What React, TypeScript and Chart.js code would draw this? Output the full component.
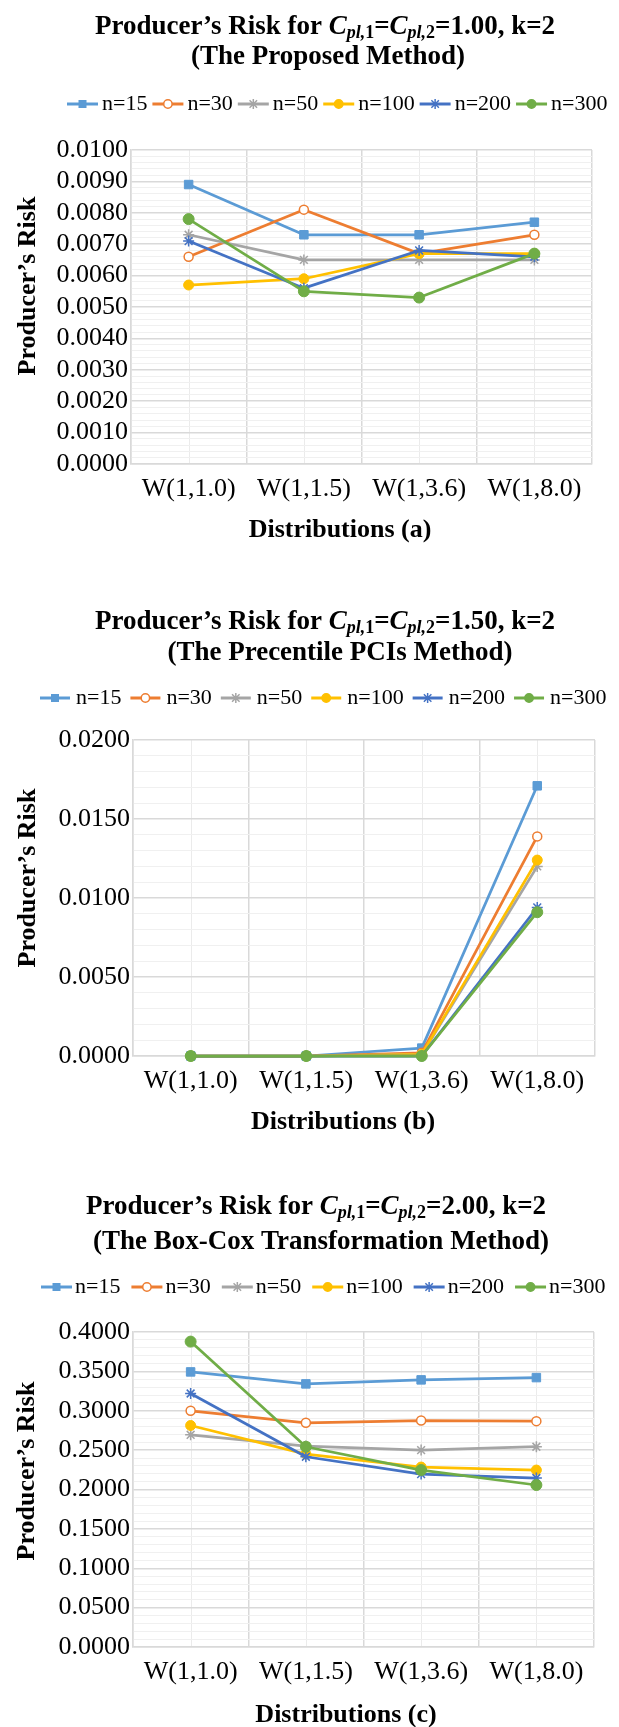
import React, { useEffect, useRef } from 'react';
import { Chart, registerables } from 'chart.js';

Chart.register(...registerables);

// ---------- data ----------
const categories = ['W(1,1.0)', 'W(1,1.5)', 'W(1,3.6)', 'W(1,8.0)'];
const seriesNames = ['n=15', 'n=30', 'n=50', 'n=100', 'n=200', 'n=300'];

// (a) The Proposed Method, Cpl = 1.00
const a_n15 = [0.0089, 0.0073, 0.0073, 0.0077];
const a_n30 = [0.0066, 0.0081, 0.0067, 0.0073];
const a_n50 = [0.0073, 0.0065, 0.0065, 0.0065];
const a_n100 = [0.0057, 0.0059, 0.0067, 0.0067];
const a_n200 = [0.0071, 0.0056, 0.0068, 0.0066];
const a_n300 = [0.0078, 0.0055, 0.0053, 0.0067];

// (b) The Precentile PCIs Method, Cpl = 1.50
const b_n15 = [0.0, 0.0, 0.0005, 0.0171];
const b_n30 = [0.0, 0.0, 0.0002, 0.0139];
const b_n50 = [0.0, 0.0, 0.0001, 0.012];
const b_n100 = [0.0, 0.0, 0.0001, 0.0124];
const b_n200 = [0.0, 0.0, 0.0, 0.0094];
const b_n300 = [0.0, 0.0, 0.0, 0.0091];

// (c) The Box-Cox Transformation Method, Cpl = 2.00
const c_n15 = [0.3493, 0.3341, 0.3392, 0.3421];
const c_n30 = [0.2999, 0.2847, 0.2876, 0.2868];
const c_n50 = [0.2695, 0.2551, 0.2501, 0.2543];
const c_n100 = [0.2813, 0.245, 0.2285, 0.2247];
const c_n200 = [0.3219, 0.2416, 0.2196, 0.2146];
const c_n300 = [0.3878, 0.2543, 0.2247, 0.2057];

// axis ranges (max, major step, minor step)
const a_axis = [0.01, 0.001, 0.0002];
const b_axis = [0.02, 0.005, 0.001];
const c_axis = [0.4, 0.05, 0.01];

const cplValues = ['1.00', '1.50', '2.00'];
const subtitles = ['(The Proposed Method)', '(The Precentile PCIs Method)', '(The Box-Cox Transformation Method)'];
const xTitles = ['Distributions (a)', 'Distributions (b)', 'Distributions (c)'];
const yTitle = 'Producer\u2019s Risk';

// ---------- styles ----------
const FONT = '"Liberation Serif", "Times New Roman", serif';
const W = 619;

const seriesStyles = [
  { color: '#5B9BD5', fill: '#5B9BD5', pointStyle: 'rect', radius: 6, bw: 1 },
  { color: '#ED7D31', fill: '#FFFFFF', pointStyle: 'circle', radius: 4.5, bw: 1.5 },
  { color: '#A5A5A5', fill: '#A5A5A5', pointStyle: 'star', radius: 5.5, bw: 1.5 },
  { color: '#FFC000', fill: '#FFC000', pointStyle: 'circle', radius: 5, bw: 1 },
  { color: '#4472C4', fill: '#4472C4', pointStyle: 'star', radius: 5.5, bw: 1.5 },
  { color: '#70AD47', fill: '#70AD47', pointStyle: 'circle', radius: 5.5, bw: 1 },
];

type Layout = {
  top: number; height: number;
  left: number; right: number; plotTop: number; plotBottom: number;
  t1y: number; t1x: number; t2y: number; t2x: number;
  legY: number; legX: number; legLine: number; legTextGap: number; legGap: number;
  yTx: number; yTy: number; xTx: number; xTy: number;
};

const layouts: Layout[] = [
  { top: 0, height: 560, left: 131, right: 592, plotTop: 150, plotBottom: 464,
    t1y: 27, t1x: 325, t2y: 57, t2x: 328, legY: 104, legX: 67, legLine: 31, legTextGap: 4, legGap: 5,
    yTx: 28, yTy: 286, xTx: 340, xTy: 530 },
  { top: 560, height: 580, left: 133, right: 595, plotTop: 180, plotBottom: 496,
    t1y: 62, t1x: 325, t2y: 93, t2x: 340, legY: 138, legX: 40, legLine: 30, legTextGap: 6, legGap: 9,
    yTx: 28, yTy: 318, xTx: 343, xTy: 562 },
  { top: 1140, height: 587, left: 133, right: 594, plotTop: 192, plotBottom: 507,
    t1y: 67, t1x: 316, t2y: 102, t2x: 321, legY: 147, legX: 41, legLine: 31, legTextGap: 3, legGap: 11,
    yTx: 27, yTy: 331, xTx: 346, xTy: 575 },
];

const panels = [
  { values: [a_n15, a_n30, a_n50, a_n100, a_n200, a_n300], axis: a_axis },
  { values: [b_n15, b_n30, b_n50, b_n100, b_n200, b_n300], axis: b_axis },
  { values: [c_n15, c_n30, c_n50, c_n100, c_n200, c_n300], axis: c_axis },
];

function drawMarker(ctx: CanvasRenderingContext2D, style: string, x: number, y: number, r: number, stroke: string, fill: string) {
  ctx.save();
  ctx.strokeStyle = stroke;
  ctx.fillStyle = fill;
  ctx.lineWidth = 1.5;
  ctx.beginPath();
  if (style === 'rect') {
    ctx.rect(x - r, y - r, 2 * r, 2 * r);
    ctx.fill();
  } else if (style === 'circle') {
    ctx.arc(x, y, r, 0, Math.PI * 2);
    ctx.fill();
    ctx.stroke();
  } else {
    const d = r * 0.75;
    ctx.moveTo(x - d, y - d); ctx.lineTo(x + d, y + d);
    ctx.moveTo(x - d, y + d); ctx.lineTo(x + d, y - d);
    ctx.moveTo(x, y - r); ctx.lineTo(x, y + r);
    ctx.stroke();
  }
  ctx.restore();
}

type Seg = { text: string; font: string; dy?: number };

function drawRich(ctx: CanvasRenderingContext2D, segs: Seg[], cx: number, y: number) {
  let total = 0;
  const widths = segs.map((s) => {
    ctx.font = s.font;
    const w = ctx.measureText(s.text).width;
    total += w;
    return w;
  });
  let x = cx - total / 2;
  ctx.textAlign = 'left';
  ctx.textBaseline = 'middle';
  segs.forEach((s, i) => {
    ctx.font = s.font;
    ctx.fillText(s.text, x, y + (s.dy || 0));
    x += widths[i];
  });
}

function makeDecor(idx: number) {
  const L = layouts[idx];
  return {
    id: 'decor' + idx,
    beforeDraw(chart: any) {
      const ctx: CanvasRenderingContext2D = chart.ctx;
      const xs = chart.scales.x;
      const area = chart.chartArea;
      ctx.save();
      ctx.strokeStyle = '#EBEBEB';
      ctx.lineWidth = 1;
      categories.forEach((_, i) => {
        const px = Math.round(xs.getPixelForValue(i)) + 0.5;
        ctx.beginPath();
        ctx.moveTo(px, area.top);
        ctx.lineTo(px, area.bottom);
        ctx.stroke();
      });
      ctx.restore();
    },
    afterDraw(chart: any) {
      const ctx: CanvasRenderingContext2D = chart.ctx;
      ctx.save();
      ctx.fillStyle = '#000';
      const big = `bold 27px ${FONT}`;
      const bigIt = `italic bold 27px ${FONT}`;
      const subIt = `italic bold 18px ${FONT}`;
      const sub = `bold 18px ${FONT}`;
      drawRich(ctx, [
        { text: 'Producer\u2019s Risk for ', font: big },
        { text: 'C', font: bigIt },
        { text: 'pl,', font: subIt, dy: 6 },
        { text: '1', font: sub, dy: 6 },
        { text: '=', font: big },
        { text: 'C', font: bigIt },
        { text: 'pl,', font: subIt, dy: 6 },
        { text: '2', font: sub, dy: 6 },
        { text: '=' + cplValues[idx] + ', k=2', font: big },
      ], L.t1x, L.t1y);
      drawRich(ctx, [{ text: subtitles[idx], font: big }], L.t2x, L.t2y);

      // legend
      ctx.font = `22px ${FONT}`;
      ctx.textBaseline = 'middle';
      ctx.textAlign = 'left';
      let x = L.legX;
      seriesNames.forEach((name, i) => {
        const st = seriesStyles[i];
        ctx.save();
        ctx.strokeStyle = st.color;
        ctx.lineWidth = 3;
        ctx.beginPath();
        ctx.moveTo(x, L.legY);
        ctx.lineTo(x + L.legLine, L.legY);
        ctx.stroke();
        ctx.restore();
        const mr = st.pointStyle === 'rect' ? 4 : st.pointStyle === 'star' ? 5 : 4.2;
        drawMarker(ctx, st.pointStyle, x + L.legLine / 2, L.legY, mr, st.color, st.fill);
        ctx.font = `22px ${FONT}`;
        ctx.fillStyle = '#000';
        const tx = x + L.legLine + L.legTextGap;
        ctx.fillText(name, tx, L.legY);
        x = tx + ctx.measureText(name).width + L.legGap;
      });

      // axis titles
      ctx.font = `bold 26px ${FONT}`;
      ctx.textAlign = 'center';
      ctx.textBaseline = 'middle';
      ctx.fillText(xTitles[idx], L.xTx, L.xTy);
      ctx.save();
      ctx.translate(L.yTx, L.yTy);
      ctx.rotate(-Math.PI / 2);
      ctx.fillText(yTitle, 0, 0);
      ctx.restore();
      ctx.restore();
    },
  };
}

function Panel({ idx }: { idx: number }) {
  const ref = useRef<HTMLCanvasElement>(null);
  const L = layouts[idx];
  useEffect(() => {
    const canvas = ref.current;
    if (!canvas) return;
    const p = panels[idx];
    const [yMax, major, minor] = p.axis;
    const ratio = Math.round(major / minor);
    const xHeight = 50;
    const chart = new Chart(canvas, {
      type: 'line',
      data: {
        labels: categories,
        datasets: p.values.map((vals, i) => ({
          label: seriesNames[i],
          data: vals,
          borderColor: seriesStyles[i].color,
          backgroundColor: seriesStyles[i].fill,
          pointStyle: seriesStyles[i].pointStyle as any,
          pointRadius: seriesStyles[i].radius,
          pointBorderWidth: seriesStyles[i].bw,
          pointBorderColor: seriesStyles[i].color,
          pointBackgroundColor: seriesStyles[i].fill,
          borderWidth: 2.75,
          borderJoinStyle: 'round' as const,
          borderCapStyle: 'round' as const,
          tension: 0,
          order: seriesNames.length - i,
          clip: false as any,
        })),
      },
      options: {
        responsive: false,
        animation: false,
        devicePixelRatio: 1,
        events: [],
        layout: {
          padding: { left: 0, right: W - L.right, top: L.plotTop, bottom: L.height - L.plotBottom - xHeight },
        },
        plugins: {
          legend: { display: false },
          title: { display: false },
          tooltip: { enabled: false },
        },
        scales: {
          x: {
            type: 'category',
            offset: true,
            grid: { offset: true, color: '#D9D9D9', lineWidth: 1.5, drawTicks: false },
            border: { color: '#D9D9D9', width: 1.5 },
            ticks: { font: { family: FONT, size: 26 }, color: '#000', padding: 10, maxRotation: 0, autoSkip: false },
            afterFit: (s: any) => { s.height = xHeight; },
          },
          y: {
            type: 'linear',
            min: 0,
            max: yMax,
            grid: {
              color: (c: any) => (c.index % ratio === 0 ? '#D9D9D9' : '#F0F0F0'),
              lineWidth: (c: any) => (c.index % ratio === 0 ? 1.5 : 1),
              drawTicks: false,
            },
            border: { color: '#D9D9D9', width: 1.5 },
            ticks: {
              stepSize: minor,
              autoSkip: false,
              maxTicksLimit: 1000,
              callback: (v: any, i: number) => (i % ratio === 0 ? Number(v).toFixed(4) : ''),
              font: { family: FONT, size: 26 },
              color: '#000',
              padding: 3,
            },
            afterFit: (s: any) => { s.width = L.left; },
          },
        },
      },
      plugins: [makeDecor(idx)],
    } as any);
    return () => chart.destroy();
  }, [idx]);
  return (
    <canvas
      ref={ref}
      width={W}
      height={L.height}
      style={{ position: 'absolute', left: 0, top: L.top, width: W, height: L.height, display: 'block' }}
    />
  );
}

export default function App() {
  return (
    <div style={{ position: 'absolute', left: 0, top: 0, width: W, height: 1727, background: '#ffffff', overflow: 'hidden' }}>
      <Panel idx={0} />
      <Panel idx={1} />
      <Panel idx={2} />
    </div>
  );
}
